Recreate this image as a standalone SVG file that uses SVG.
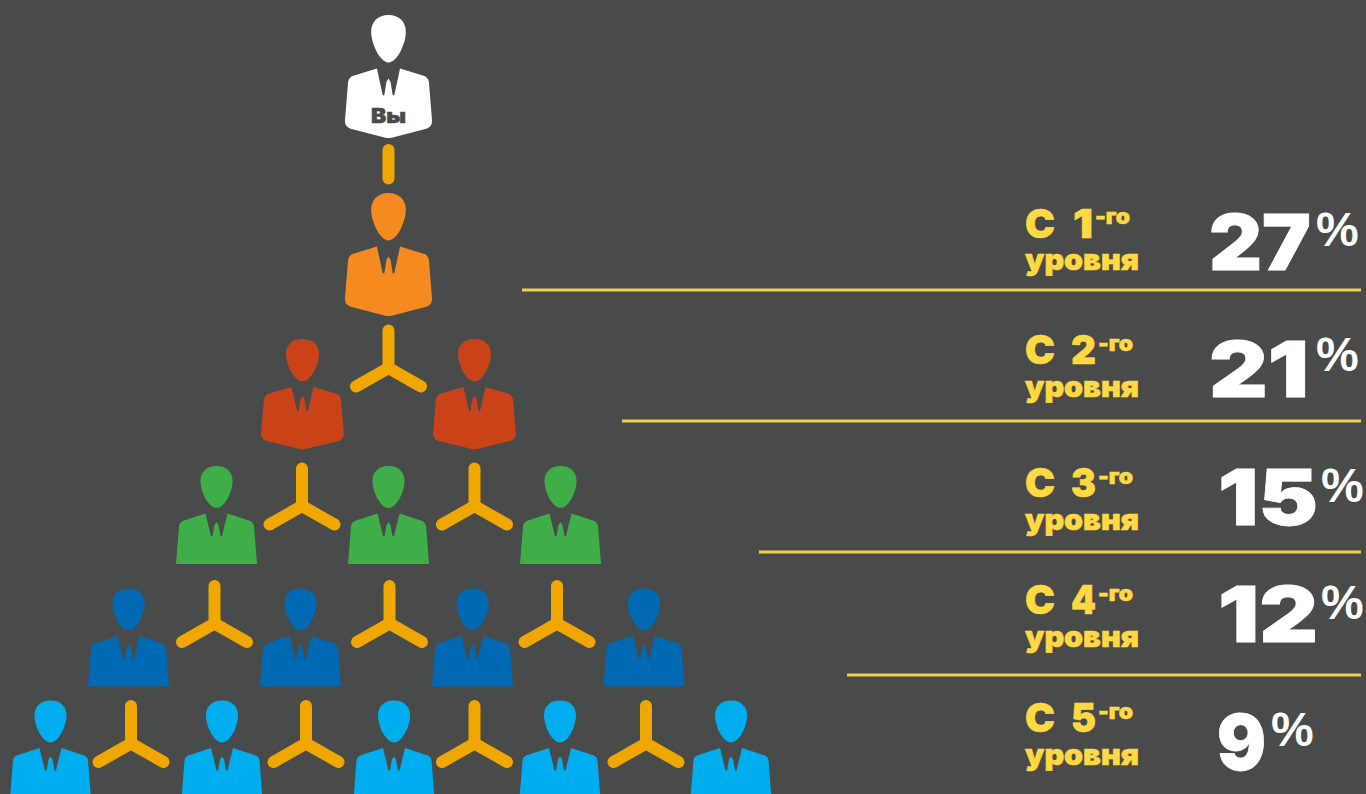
<svg xmlns="http://www.w3.org/2000/svg" xmlns:xlink="http://www.w3.org/1999/xlink" width="1366" height="794" viewBox="0 0 1366 794">
<style>
.c{fill:none;stroke:#f0a800;stroke-width:12;stroke-linecap:round;stroke-linejoin:round}
.l{stroke:#f2d04e;stroke-width:3;fill:none}
text{font-family:"Inter","Liberation Sans",sans-serif;font-weight:900}
.y{fill:#ffd844;stroke:#ffd844;stroke-width:.6}
.big{fill:#fff;stroke:#fff;stroke-width:.8;font-size:77px}
.s{font-size:40px}.t{font-size:21px}.u{font-size:29px}
.p{fill:#fff;font-family:"Liberation Sans",sans-serif;font-weight:700;font-size:48px}
</style>
<defs>
<g id="round">
<path d="M0,0C10,0 16.5,6 16.5,15C16.5,26 8,42.5 0,42.5C-8,42.5 -16.5,26 -16.5,15C-16.5,6 -10,0 0,0Z"/>
<path d="M-11,48L-35,55Q-38,57 -38.500,60L-41.500,95Q-41.500,100 -36,102L-3,110Q0,110.500 3,110L36,102Q41.500,100 41.500,95L38.500,60Q38,57 35,55L11,48L5.500,72L4,72L2,60L0,57L-2,60L-4,72L-5.500,72Z"/>
</g>
<g id="flat">
<path d="M0,0C10,0 16,6 16,15C16,26 8,42 0,42C-8,42 -16,26 -16,15C-16,6 -10,0 0,0Z"/>
<path d="M-11,47.500L-34,55Q-37,56.500 -37.500,60L-40.500,98L40.500,98L37.500,60Q37,56.500 34,55L11,47.500L5.500,70L4,70L2,59L0,56L-2,59L-4,70L-5.500,70Z"/>
</g>
<path id="y" d="M0,6V43.500M-32.500,62L0,43.500L32.500,62"/>
</defs>
<rect width="1366" height="794" fill="#494b4a"/>
<g id="connectors">
<path class="c" d="M388.500,150V178.500"/>
<use href="#y" class="c" x="388.500" y="324.500"/>
<use href="#y" class="c" x="302" y="462.500"/>
<use href="#y" class="c" x="474.500" y="462.500"/>
<use href="#y" class="c" x="214.500" y="580"/>
<use href="#y" class="c" x="389.500" y="580"/>
<use href="#y" class="c" x="557" y="580"/>
<use href="#y" class="c" x="131" y="700"/>
<use href="#y" class="c" x="306" y="700"/>
<use href="#y" class="c" x="474.500" y="700"/>
<use href="#y" class="c" x="646" y="700"/>
</g>
<g id="you" fill="#fff"><use href="#round" transform="translate(388.500,15) scale(1.05,1.115)"/></g>
<text x="388.500" y="123" text-anchor="middle" font-size="20" fill="#494b4a" stroke="#494b4a" stroke-width=".5" textLength="35" lengthAdjust="spacingAndGlyphs">Вы</text>
<g id="l1" fill="#f58a20"><use href="#round" transform="translate(388.500,193) scale(1.05,1.115)"/></g>
<g id="l2a" fill="#c94218"><use href="#round" transform="translate(302.500,339)"/></g>
<g id="l2b" fill="#c94218"><use href="#round" transform="translate(474.500,339)"/></g>
<g id="l3a" fill="#3fae49"><use href="#flat" x="216.500" y="466"/></g>
<g id="l3b" fill="#3fae49"><use href="#flat" x="388.500" y="466"/></g>
<g id="l3c" fill="#3fae49"><use href="#flat" x="560.500" y="466"/></g>
<g id="l4a" fill="#0069b4"><use href="#flat" x="128.500" y="588.500"/></g>
<g id="l4b" fill="#0069b4"><use href="#flat" x="300.500" y="588.500"/></g>
<g id="l4c" fill="#0069b4"><use href="#flat" x="472.500" y="588.500"/></g>
<g id="l4d" fill="#0069b4"><use href="#flat" x="644" y="588.500"/></g>
<g id="l5a" fill="#00aeef"><use href="#flat" x="50.500" y="700.500"/></g>
<g id="l5b" fill="#00aeef"><use href="#flat" x="222" y="700.500"/></g>
<g id="l5c" fill="#00aeef"><use href="#flat" x="394" y="700.500"/></g>
<g id="l5d" fill="#00aeef"><use href="#flat" x="560" y="700.500"/></g>
<g id="l5e" fill="#00aeef"><use href="#flat" x="731" y="700.500"/></g>
<g id="rules">
<path class="l" d="M522,290H1361M622,421H1361M759,552H1361M847,675H1361"/>
</g>
<g id="r1">
<text class="y s" x="1025" y="238" textLength="30" lengthAdjust="spacingAndGlyphs">С</text><text class="y s" x="1073" y="238" textLength="20" lengthAdjust="spacingAndGlyphs">1</text><text class="y t" x="1095" y="224" textLength="35" lengthAdjust="spacingAndGlyphs">-го</text>
<text class="y u" x="1025" y="270" textLength="114" lengthAdjust="spacingAndGlyphs">уровня</text>
<text class="big" x="1209" y="270" textLength="102" lengthAdjust="spacingAndGlyphs">27</text><text class="p" x="1316" y="246">%</text>
</g>
<g id="r2">
<text class="y s" x="1025" y="364" textLength="30" lengthAdjust="spacingAndGlyphs">С</text><text class="y s" x="1071" y="364" textLength="25" lengthAdjust="spacingAndGlyphs">2</text><text class="y t" x="1098" y="351" textLength="35" lengthAdjust="spacingAndGlyphs">-го</text>
<text class="y u" x="1025" y="397" textLength="114" lengthAdjust="spacingAndGlyphs">уровня</text>
<text class="big" x="1209" y="397" textLength="100" lengthAdjust="spacingAndGlyphs">21</text><text class="p" x="1316" y="371">%</text>
</g>
<g id="r3">
<text class="y s" x="1025" y="497" textLength="30" lengthAdjust="spacingAndGlyphs">С</text><text class="y s" x="1071" y="497" textLength="25" lengthAdjust="spacingAndGlyphs">3</text><text class="y t" x="1098" y="484" textLength="35" lengthAdjust="spacingAndGlyphs">-го</text>
<text class="y u" x="1025" y="530" textLength="114" lengthAdjust="spacingAndGlyphs">уровня</text>
<text class="big" x="1218" y="525" textLength="100" lengthAdjust="spacingAndGlyphs">15</text><text class="p" x="1321" y="502">%</text>
</g>
<g id="r4">
<text class="y s" x="1025" y="614" textLength="30" lengthAdjust="spacingAndGlyphs">С</text><text class="y s" x="1071" y="614" textLength="25" lengthAdjust="spacingAndGlyphs">4</text><text class="y t" x="1098" y="601" textLength="35" lengthAdjust="spacingAndGlyphs">-го</text>
<text class="y u" x="1025" y="647" textLength="114" lengthAdjust="spacingAndGlyphs">уровня</text>
<text class="big" x="1218" y="642" textLength="100" lengthAdjust="spacingAndGlyphs">12</text><text class="p" x="1321" y="619">%</text>
</g>
<g id="r5">
<text class="y s" x="1025" y="732" textLength="30" lengthAdjust="spacingAndGlyphs">С</text><text class="y s" x="1071" y="732" textLength="25" lengthAdjust="spacingAndGlyphs">5</text><text class="y t" x="1098" y="719" textLength="35" lengthAdjust="spacingAndGlyphs">-го</text>
<text class="y u" x="1025" y="765" textLength="114" lengthAdjust="spacingAndGlyphs">уровня</text>
<text class="big" x="1217" y="770" textLength="49" lengthAdjust="spacingAndGlyphs">9</text><text class="p" x="1271" y="746">%</text>
</g>
</svg>
